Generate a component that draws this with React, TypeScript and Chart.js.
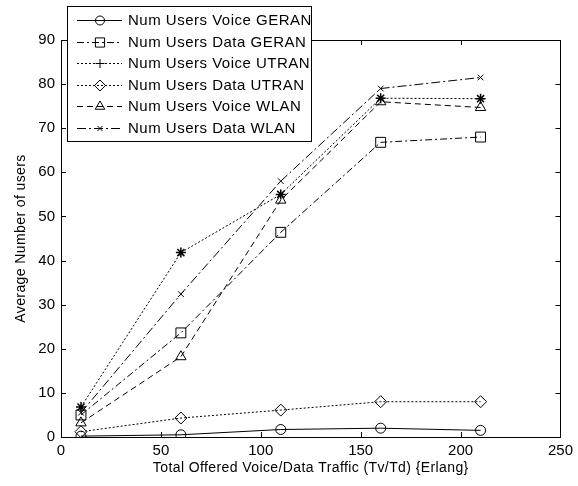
import React, { useEffect, useRef } from "react";
import { Chart, registerables } from "chart.js";
import { drawPoint } from "chart.js/helpers";

Chart.register(...registerables);

const traffic = [10, 60, 110, 160, 210];
const voiceGeran = [0.2, 0.5, 1.7, 2.0, 1.5];
const dataGeran = [5.0, 23.6, 46.4, 66.8, 68.0];
const voiceUtran = [6.8, 41.8, 55.0, 76.8, 76.7];
const dataUtran = [1.2, 4.3, 6.1, 8.0, 8.0];
const voiceWlan = [3.2, 18.2, 53.7, 76.0, 74.7];
const dataWlan = [5.5, 32.4, 58.0, 79.0, 81.5];

const seriesNames = [
  "Num Users Voice GERAN",
  "Num Users Data GERAN",
  "Num Users Voice UTRAN",
  "Num Users Data UTRAN",
  "Num Users Voice WLAN",
  "Num Users Data WLAN",
];
const seriesValues = [voiceGeran, dataGeran, voiceUtran, dataUtran, voiceWlan, dataWlan];
const seriesStyles = [
  { point: "circle", radius: 5, dash: [] as number[], legendPoint: "circle" },
  { point: "rect", radius: 7, dash: [7, 3, 2, 3], legendPoint: "rect" },
  { point: "star", radius: 5, dash: [2, 2], legendPoint: "cross" },
  { point: "rectRot", radius: 6, dash: [2, 2], legendPoint: "rectRot" },
  { point: "triangle", radius: 6, dash: [6, 4], legendPoint: "triangle" },
  { point: "crossRot", radius: 4, dash: [9, 3, 2, 3], legendPoint: "crossRot" },
];

const xTicks = [0, 50, 100, 150, 200, 250];
const yTicks = [0, 10, 20, 30, 40, 50, 60, 70, 80, 90];
const xTitle = "Total Offered Voice/Data Traffic (Tv/Td) {Erlang}";
const yTitle = "Average Number of users";

const FONT = "Arial, 'Liberation Sans', Helvetica, sans-serif";

const framePlugin = {
  id: "matlabFrame",
  afterDraw(chart: any) {
    const ctx = chart.ctx;
    const { left, right, top, bottom } = chart.chartArea;
    const xs = chart.scales.x;
    const ys = chart.scales.y;
    ctx.save();
    ctx.strokeStyle = "#000";
    ctx.lineWidth = 1;
    ctx.setLineDash([]);
    ctx.strokeRect(Math.round(left) + 0.5, Math.round(top) + 0.5, Math.round(right - left), Math.round(bottom - top));
    const tl = 5;
    ctx.beginPath();
    xTicks.forEach((v) => {
      const px = Math.round(xs.getPixelForValue(v)) + 0.5;
      ctx.moveTo(px, bottom);
      ctx.lineTo(px, bottom - tl);
      ctx.moveTo(px, top);
      ctx.lineTo(px, top + tl);
    });
    yTicks.forEach((v) => {
      const py = Math.round(ys.getPixelForValue(v)) + 0.5;
      ctx.moveTo(left, py);
      ctx.lineTo(left + tl, py);
      ctx.moveTo(right, py);
      ctx.lineTo(right - tl, py);
    });
    ctx.stroke();

    // axis titles
    ctx.fillStyle = "#000";
    ctx.font = "14px " + FONT;
    ctx.textAlign = "center";
    ctx.textBaseline = "middle";
    try { (ctx as any).letterSpacing = "0.4px"; } catch (e) {}
    ctx.fillText(xTitle, (left + right) / 2, 468);
    ctx.save();
    ctx.translate(21, (top + bottom) / 2);
    ctx.rotate(-Math.PI / 2);
    ctx.fillText(yTitle, 0, 0);
    ctx.restore();

    // legend
    const bx = 67.5, by = 6.5, bw = 244, bh = 135;
    ctx.fillStyle = "#fff";
    ctx.fillRect(bx, by, bw, bh);
    ctx.strokeStyle = "#000";
    ctx.strokeRect(bx, by, bw, bh);
    ctx.font = "15px " + FONT;
    try { (ctx as any).letterSpacing = "0.5px"; } catch (e) {}
    ctx.textAlign = "left";
    seriesNames.forEach((name, i) => {
      const y = Math.round(20 + i * 21.6) + 0.5;
      const st = seriesStyles[i];
      ctx.setLineDash(st.dash);
      ctx.beginPath();
      ctx.moveTo(77, y);
      ctx.lineTo(122, y);
      ctx.stroke();
      ctx.setLineDash([]);
      ctx.strokeStyle = "#000";
      ctx.fillStyle = "rgba(0,0,0,0)";
      drawPoint(ctx, { pointStyle: st.legendPoint, radius: st.radius - 0.5, rotation: 0, borderWidth: 1 }, 100, y);
      ctx.fillStyle = "#000";
      ctx.fillText(name, 128, y + 0.5);
    });
    try { (ctx as any).letterSpacing = "0px"; } catch (e) {}
    ctx.restore();
  },
};

export default function App() {
  const ref = useRef<HTMLCanvasElement>(null);
  useEffect(() => {
    if (!ref.current) return;
    const datasets = seriesNames.map((name, i) => ({
      label: name,
      data: traffic.map((t, j) => ({ x: t, y: seriesValues[i][j] })),
      borderColor: "#000",
      backgroundColor: "rgba(0,0,0,0)",
      borderWidth: 1,
      borderDash: seriesStyles[i].dash,
      pointStyle: seriesStyles[i].point,
      pointRadius: seriesStyles[i].radius,
      pointBorderColor: "#000",
      pointBackgroundColor: "rgba(0,0,0,0)",
      pointBorderWidth: seriesStyles[i].point === "star" ? 1.5 : 1,
      tension: 0,
      fill: false,
    }));
    const chart = new Chart(ref.current, {
      type: "line",
      data: { datasets },
      options: {
        animation: false,
        responsive: false,
        devicePixelRatio: 1,
        layout: { padding: { left: 0, top: 40, right: 13, bottom: 0 } },
        plugins: { legend: { display: false }, tooltip: { enabled: false } },
        scales: {
          x: {
            type: "linear",
            min: 0,
            max: 250,
            grid: { display: false, drawTicks: false, tickLength: 0 },
            border: { display: false },
            afterFit: (s: any) => { s.height = 49; },
            ticks: {
              stepSize: 50,
              color: "#000",
              font: { size: 15, family: FONT },
              padding: 5,
              maxRotation: 0,
            },
          },
          y: {
            type: "linear",
            min: 0,
            max: 90,
            grid: { display: false, drawTicks: false, tickLength: 0 },
            border: { display: false },
            afterFit: (s: any) => { s.width = 61; },
            ticks: {
              stepSize: 10,
              color: "#000",
              font: { size: 15, family: FONT },
              padding: 6,
            },
          },
        },
      },
      plugins: [framePlugin],
    } as any);
    return () => chart.destroy();
  }, []);
  return (
    <div style={{ position: "fixed", left: 0, top: 0, width: 578, height: 486, background: "#fff" }}>
      <canvas ref={ref} width={578} height={486} />
    </div>
  );
}
